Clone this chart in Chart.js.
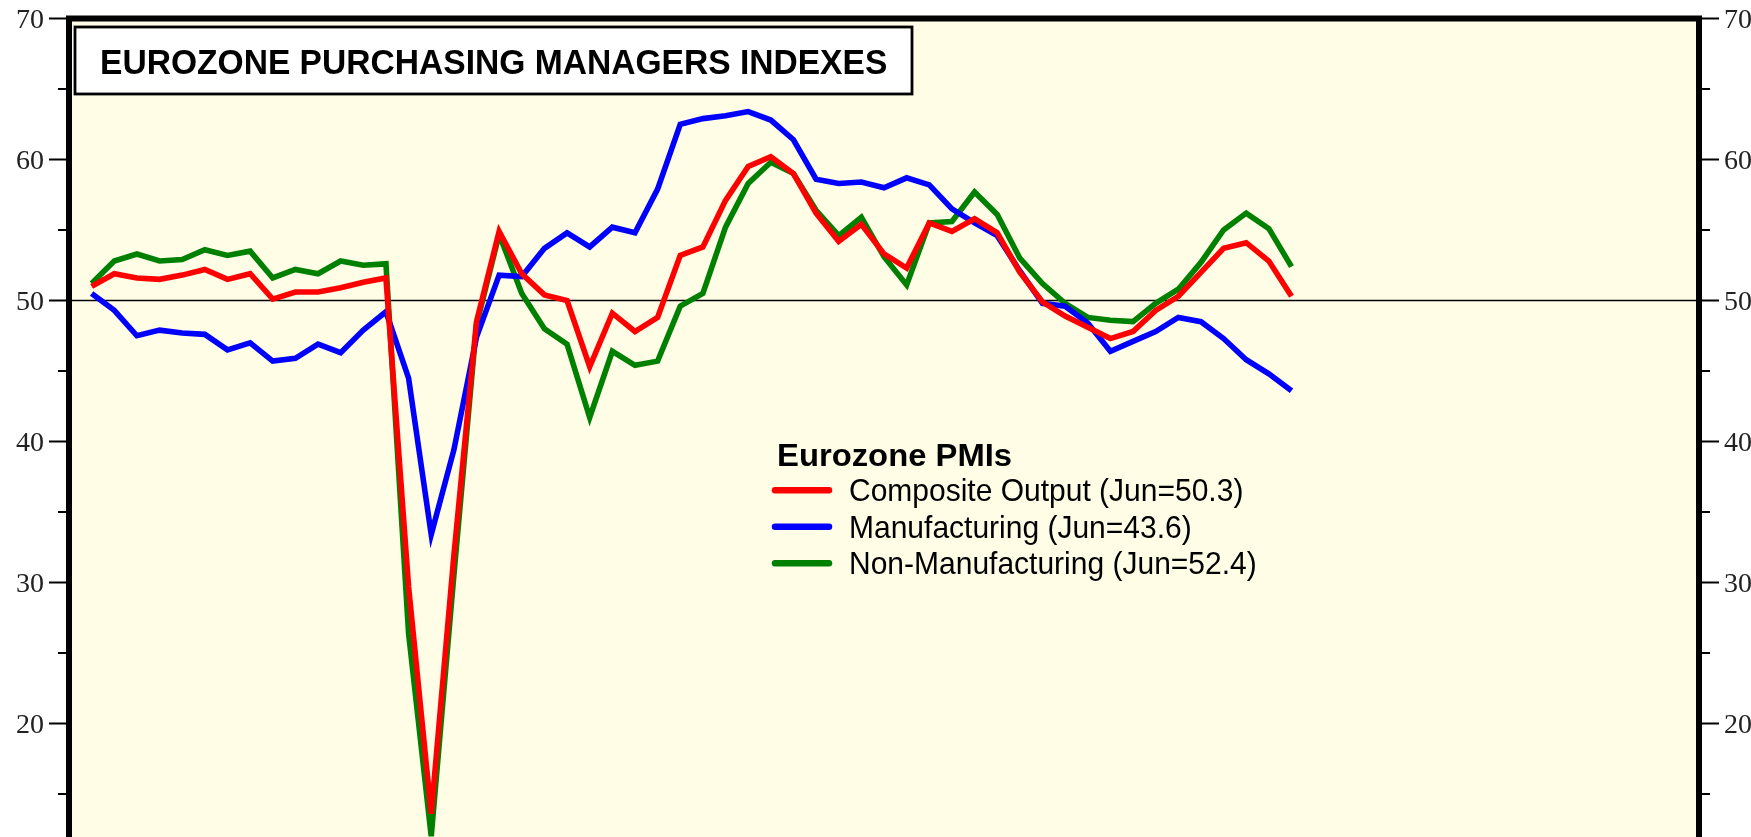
<!DOCTYPE html>
<html>
<head>
<meta charset="utf-8">
<script src="https://cdn.jsdelivr.net/npm/chart.js@4.4.0/dist/chart.umd.min.js"></script>
<style>
html,body{margin:0;padding:0;background:#fff;overflow:hidden;}
canvas{display:block;}
</style>
</head>
<body>
<canvas id="c" width="1751" height="837"></canvas>
<script>
// ---------- DATA ----------
const months = [];
for (let yr = 2019; yr <= 2023; yr++) {
  for (let m = 1; m <= 12; m++) {
    if (yr === 2023 && m > 6) break;
    months.push(yr + '-' + String(m).padStart(2, '0'));
  }
}
const composite = [51.0,51.9,51.6,51.5,51.8,52.2,51.5,51.9,50.1,50.6,50.6,50.9,
  51.3,51.6,29.7,13.6,31.9,48.5,54.9,51.9,50.4,50.0,45.3,49.1,
  47.8,48.8,53.2,53.8,57.1,59.5,60.2,59.0,56.2,54.2,55.4,53.3,
  52.3,55.5,54.9,55.8,54.8,52.0,49.9,48.9,48.1,47.3,47.8,49.3,
  50.3,52.0,53.7,54.1,52.8,50.3];
const manufacturing = [50.5,49.3,47.5,47.9,47.7,47.6,46.5,47.0,45.7,45.9,46.9,46.3,
  47.9,49.2,44.5,33.4,39.4,47.4,51.8,51.7,53.7,54.8,53.8,55.2,
  54.8,57.9,62.5,62.9,63.1,63.4,62.8,61.4,58.6,58.3,58.4,58.0,
  58.7,58.2,56.5,55.5,54.6,52.1,49.8,49.6,48.4,46.4,47.1,47.8,
  48.8,48.5,47.3,45.8,44.8,43.6];
const nonManufacturing = [51.2,52.8,53.3,52.8,52.9,53.6,53.2,53.5,51.6,52.2,51.9,52.8,
  52.5,52.6,26.4,12.0,30.5,48.3,54.7,50.5,48.0,46.9,41.7,46.4,
  45.4,45.7,49.6,50.5,55.2,58.3,59.8,59.0,56.4,54.6,55.9,53.1,
  51.1,55.5,55.6,57.7,56.1,53.0,51.2,49.8,48.8,48.6,48.5,49.8,
  50.8,52.7,55.0,56.2,55.1,52.4];
const seriesLabels = ['Composite Output (Jun=50.3)', 'Manufacturing (Jun=43.6)', 'Non-Manufacturing (Jun=52.4)'];
const yTickLabels = [20, 30, 40, 50, 60, 70];
const yMinorTicks = [15, 25, 35, 45, 55, 65];
const chartTitle = 'EUROZONE PURCHASING MANAGERS INDEXES';
const legendTitle = 'Eurozone PMIs';

// ---------- STYLE ----------
const COLORS = ['rgb(255,0,0)', 'rgb(0,0,255)', 'rgb(0,128,0)'];
const PLOT_BG = 'rgb(255,253,230)';
const Y_MIN = 11.95, Y_MAX = 70;

const toPoints = arr => arr.map((v, i) => ({ x: i, y: v }));

function drawText(ctx, text, x, y, font, sy) {
  ctx.save();
  ctx.translate(x, y);
  ctx.scale(1, sy);
  ctx.font = font;
  ctx.textBaseline = 'alphabetic';
  ctx.textAlign = 'left';
  ctx.fillStyle = '#000';
  ctx.fillText(text, 0, 0);
  ctx.restore();
}

const decor = {
  id: 'decor',
  beforeDatasetsDraw(chart) {
    const { ctx, chartArea: a } = chart;
    ctx.save();
    ctx.fillStyle = PLOT_BG;
    ctx.fillRect(a.left, a.top, a.right - a.left, a.bottom - a.top);
    const y50 = chart.scales.y.getPixelForValue(50);
    ctx.strokeStyle = '#000';
    ctx.lineWidth = 1.5;
    ctx.beginPath();
    ctx.moveTo(a.left, y50);
    ctx.lineTo(a.right, y50);
    ctx.stroke();
    ctx.restore();
  },
  afterDraw(chart) {
    const { ctx, chartArea: a } = chart;
    const ys = chart.scales.y;
    ctx.save();
    // tick marks
    ctx.strokeStyle = '#000';
    ctx.lineWidth = 1.8;
    const allTicks = yTickLabels.map(v => [v, 20]).concat(yMinorTicks.map(v => [v, 11]));
    allTicks.forEach(([v, len]) => {
      if (v < Y_MIN) return;
      const py = ys.getPixelForValue(v);
      ctx.beginPath();
      ctx.moveTo(a.left - len, py); ctx.lineTo(a.left, py);
      ctx.moveTo(a.right, py); ctx.lineTo(a.right + len, py);
      ctx.stroke();
    });
    // frame (left, top, right)
    ctx.lineWidth = 6;
    ctx.lineCap = 'square';
    ctx.beginPath();
    ctx.moveTo(a.left, a.bottom + 10);
    ctx.lineTo(a.left, a.top);
    ctx.lineTo(a.right, a.top);
    ctx.lineTo(a.right, a.bottom + 10);
    ctx.stroke();
    // title box
    ctx.fillStyle = '#fff';
    ctx.fillRect(75, 27, 837, 67);
    ctx.lineWidth = 2.8;
    ctx.lineCap = 'butt';
    ctx.strokeRect(75, 27, 837, 67);
    drawText(ctx, chartTitle, 100, 74, 'bold 33.6px "Liberation Sans", Arial, sans-serif', 1.03);
    // legend
    drawText(ctx, legendTitle, 777, 466, 'bold 32.8px "Liberation Sans", Arial, sans-serif', 0.97);
    const rows = [490.3, 526.7, 563.3];
    chart.data.datasets.forEach((ds, i) => {
      ctx.strokeStyle = ds.borderColor;
      ctx.lineWidth = 6.5;
      ctx.lineCap = 'round';
      ctx.beginPath();
      ctx.moveTo(775, rows[i]);
      ctx.lineTo(829, rows[i]);
      ctx.stroke();
      drawText(ctx, ds.label, 849, rows[i] + 11, '30px "Liberation Sans", Arial, sans-serif', 1.03);
    });
    ctx.restore();
  }
};

const yAxisCommon = {
  min: Y_MIN, max: Y_MAX,
  afterBuildTicks: s => { s.ticks = yTickLabels.map(v => ({ value: v })); },
  grid: { display: false, drawTicks: false },
  border: { display: false },
  ticks: {
    font: { family: '"Liberation Serif", "Times New Roman", serif', size: 28 },
    color: '#222',
    padding: 25,
    labelOffset: 2
  }
};

new Chart(document.getElementById('c'), {
  type: 'line',
  data: {
    datasets: [
      { label: seriesLabels[0], data: toPoints(composite), borderColor: COLORS[0] },
      { label: seriesLabels[1], data: toPoints(manufacturing), borderColor: COLORS[1] },
      { label: seriesLabels[2], data: toPoints(nonManufacturing), borderColor: COLORS[2] }
    ]
  },
  options: {
    responsive: false,
    devicePixelRatio: 1,
    animation: false,
    events: [],
    datasets: { line: { borderWidth: 5.6, pointRadius: 0, tension: 0, fill: false } },
    layout: { padding: { top: 18.5, left: 0, right: 0, bottom: 0 } },
    plugins: { legend: { display: false }, tooltip: { enabled: false }, title: { display: false } },
    scales: {
      x: { type: 'linear', min: -1, max: 71, display: false },
      y: Object.assign({}, yAxisCommon, {
        position: 'left',
        afterFit: s => { s.width = 69; s.paddingTop = 0; s.paddingBottom = 0; }
      }),
      y2: Object.assign({}, yAxisCommon, {
        position: 'right',
        afterFit: s => { s.width = 52; s.paddingTop = 0; s.paddingBottom = 0; }
      })
    }
  },
  plugins: [decor]
});
</script>
</body>
</html>
